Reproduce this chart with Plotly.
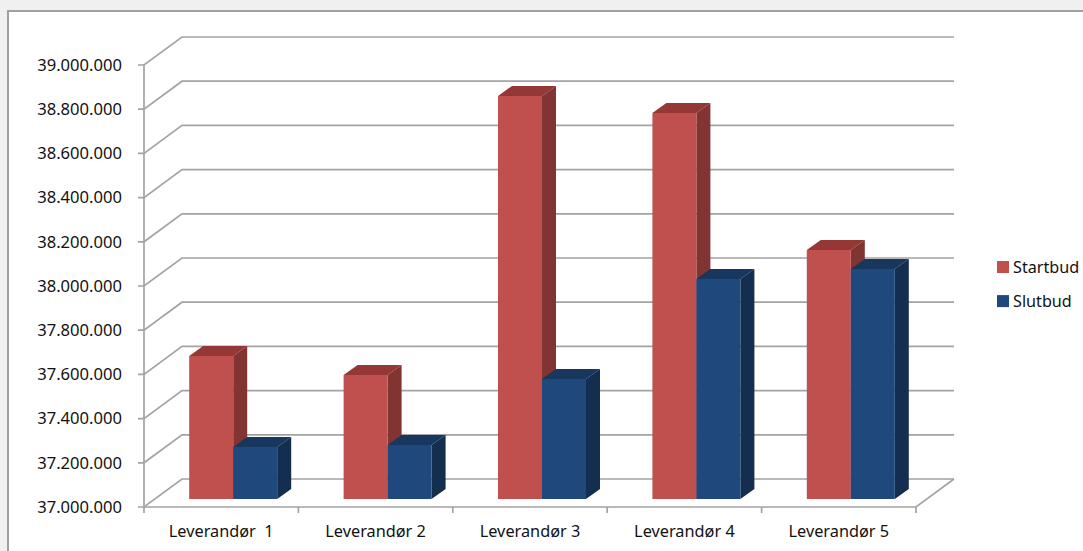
import plotly.graph_objects as go

categories = ["Leverandør\u00a0 1", "Leverandør 2", "Leverandør 3", "Leverandør 4", "Leverandør 5"]
startbud = [37647000, 37561000, 38824000, 38747000, 38127000]
slutbud = [37235000, 37244000, 37543000, 37995000, 38041000]
y_ticks = [37000000 + 200000 * i for i in range(11)]
y_tick_labels = [f"{v:,}".replace(",", ".") for v in y_ticks]

W, H = 1083, 551
L, R, T, B = 144, 916, 65, 507      # front plane of the chart box
PL, PR, PT, PB = 136, 960, 32, 514  # plot area, wide enough for the depth
FONT = "Noto Sans"
TEXT = "#111111"
GRID = "#a3a3a3"
UX = 5 / (R - L)            # x units per pixel
UY = 2e6 / (B - T)          # y units per pixel
BACK_X, BACK_Y = 38 * UX, 28 * UY
BAR_W = 44 * UX
BAR_SHIFT = 12 * UX
SIDE_X, SIDE_Y = 14 * UX, 10 * UY
Y0 = y_ticks[0]
BASE = Y0 + 8 * UY
TICK_X, TICK_Y = 6 * UX, 6 * UY

centers = [i + 0.5 for i in range(len(categories))]
x_range = [(PL - L) * UX, (PR - L) * UX]
y_range = [Y0 - (PB - B) * UY, Y0 + (B - PT) * UY]


def faces(values, off):
    top_x, top_y, side_x, side_y = [], [], [], []
    for c, v in zip(centers, values):
        v2 = v + 8 * UY
        x0 = c + BAR_SHIFT + off
        x1 = x0 + BAR_W
        top_x += [x0, x1, x1 + SIDE_X, x0 + SIDE_X, x0, None]
        top_y += [v2, v2, v2 + SIDE_Y, v2 + SIDE_Y, v2, None]
        side_x += [x1, x1 + SIDE_X, x1 + SIDE_X, x1, x1, None]
        side_y += [BASE, BASE + SIDE_Y, v2 + SIDE_Y, v2, BASE, None]
    return top_x, top_y, side_x, side_y


fig = go.Figure()

# walls, floor, axis lines and tick marks
gx, gy = [], []
for v in y_ticks:
    gx += [-TICK_X, 0, BACK_X, 5 + BACK_X, None]
    gy += [v, v, v + BACK_Y, v + BACK_Y, None]
gx += [0, 0, None, 0, 5, 5 + BACK_X, None]
gy += [y_ticks[0], y_ticks[-1], None, Y0, Y0, Y0 + BACK_Y, None]
for i in range(6):
    gx += [i, i, None]
    gy += [Y0, Y0 - TICK_Y, None]
fig.add_trace(go.Scatter(x=gx, y=gy, mode="lines", line=dict(color=GRID, width=1.7),
                         showlegend=False, hoverinfo="skip", xaxis="x", yaxis="y"))

series = [("Startbud", startbud, -BAR_W, "#C0504D", "#953735", "#823432", 1),
          ("Slutbud", slutbud, 0.0, "#1F497D", "#17375E", "#142E4F", 3)]
for name, vals, off, front, top, side, z in series:
    tx, ty, sx, sy = faces(vals, off)
    fig.add_trace(go.Scatter(x=tx, y=ty, mode="lines", fill="toself", fillcolor=top,
                             line=dict(width=0, color=top), showlegend=False, hoverinfo="skip",
                             xaxis="x2", yaxis="y", zorder=z))
    fig.add_trace(go.Scatter(x=sx, y=sy, mode="lines", fill="toself", fillcolor=side,
                             line=dict(width=0, color=side), showlegend=False, hoverinfo="skip",
                             xaxis="x2", yaxis="y", zorder=z))
    fig.add_trace(go.Bar(x=centers, y=[v - Y0 for v in vals], base=BASE, name=name,
                         offset=BAR_SHIFT + off, width=BAR_W, marker=dict(color=front, line=dict(width=0)),
                         xaxis="x2", yaxis="y", zorder=z + 1, legendgroup=name))

fig.update_layout(
    width=W, height=H,
    margin=dict(l=PL, r=W - PR, t=PT, b=H - PB, pad=0, autoexpand=False),
    paper_bgcolor="#f0f0f0",
    plot_bgcolor="rgba(0,0,0,0)",
    font=dict(family=FONT, size=16, color=TEXT),
    barmode="overlay",
    xaxis=dict(range=x_range, showticklabels=False, ticks="", showgrid=False, zeroline=False, showline=False),
    xaxis2=dict(range=x_range, overlaying="x", side="bottom", anchor="y", tickvals=centers,
                ticktext=categories, ticks="", showgrid=False, zeroline=False, showline=False,
                ticklabelstandoff=6, tickfont=dict(family=FONT, size=16.3, color=TEXT)),
    yaxis=dict(range=y_range, tickvals=y_ticks, ticktext=y_tick_labels, ticks="", showgrid=False,
               zeroline=False, showline=False, ticklabelstandoff=13,
               tickfont=dict(family=FONT, size=16.6, color=TEXT)),
    legend=dict(x=(988 - PL) / (PR - PL), y=(PB - 250) / (PB - PT), xanchor="left", yanchor="top",
                traceorder="grouped", tracegroupgap=10, indentation=-15,
                bgcolor="rgba(0,0,0,0)", font=dict(family=FONT, size=16.2, color=TEXT)),
    shapes=[dict(type="rect", xref="paper", yref="paper", layer="below",
                 x0=(8 - PL) / (PR - PL), x1=(W + 10 - PL) / (PR - PL),
                 y0=(PB - (H + 10)) / (PB - PT), y1=(PB - 11) / (PB - PT),
                 fillcolor="#ffffff", line=dict(color="#a0a0a0", width=2))],
)

post = """
document.body.style.margin='0';
document.body.style.overflow='hidden';
document.querySelectorAll('.legend .legendsymbols').forEach(function(g){
  g.setAttribute('transform','translate(10,0) '+(g.getAttribute('transform')||''));
});
"""
fig.write_html("out.html", config={"displayModeBar": False}, post_script=post)
